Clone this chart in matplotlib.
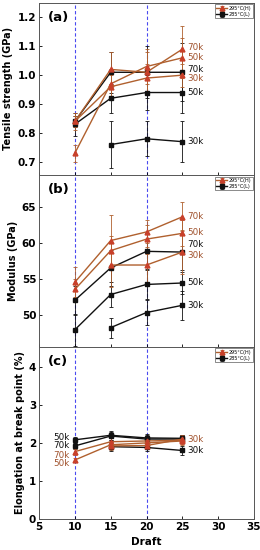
import numpy as np
import matplotlib
matplotlib.use("Agg")
import matplotlib.pyplot as plt

draft = [10, 15, 20, 25]
nan = np.nan

# (a) Tensile strength (GPa)
ts_H = {"70k": [0.84, 1.02, 1.01, 1.09], "50k": [0.73, 0.97, 1.03, 1.06], "30k": [0.84, 0.96, 0.99, 1.00]}
ts_H_err = {"70k": [0.03, 0.06, 0.07, 0.08], "50k": [0.03, 0.05, 0.06, 0.07], "30k": [0.02, 0.04, 0.05, 0.04]}
ts_L = {"70k": [0.84, 1.01, 1.01, 1.01], "50k": [0.83, 0.92, 0.94, 0.94], "30k": [nan, 0.76, 0.78, 0.77]}
ts_L_err = {"70k": [0.02, 0.07, 0.09, 0.10], "50k": [0.04, 0.05, 0.06, 0.07], "30k": [nan, 0.08, 0.06, 0.07]}

# (b) Modulus (GPa)
mod_H = {"70k": [54.6, 60.4, 61.6, 63.7], "50k": [53.6, 59.0, 60.6, 61.4], "30k": [nan, 57.0, 57.0, 58.8]}
mod_H_err = {"70k": [2.1, 3.5, 1.6, 2.0], "50k": [1.5, 2.0, 2.0, 1.8], "30k": [nan, 3.0, 2.5, 3.0]}
mod_L = {"70k": [52.1, 56.6, 58.9, 58.8], "50k": [48.0, 52.9, 54.3, 54.5], "30k": [nan, 48.3, 50.4, 51.4]}
mod_L_err = {"70k": [2.0, 2.5, 2.5, 2.5], "50k": [2.2, 1.8, 2.0, 1.5], "30k": [nan, 1.4, 1.8, 2.0]}

# (c) Elongation at break point (%)
el_H = {"70k": [1.77, 2.03, 2.05, 2.07], "50k": [1.55, 1.95, 2.00, 2.05], "30k": [nan, 1.92, 1.93, 2.10]}
el_H_err = {"70k": [0.08, 0.1, 0.1, 0.1], "50k": [0.06, 0.1, 0.1, 0.1], "30k": [nan, 0.1, 0.1, 0.1]}
el_L = {"50k": [2.08, 2.20, 2.13, 2.12], "70k": [1.92, 2.18, 2.10, 2.10], "30k": [nan, 1.90, 1.88, 1.80]}
el_L_err = {"50k": [0.08, 0.12, 0.1, 0.08], "70k": [0.08, 0.1, 0.1, 0.1], "30k": [nan, 0.12, 0.1, 0.12]}

xticks = [5, 10, 15, 20, 25, 30, 35]
legend_labels = ["295°C(H)", "285°C(L)"]

colH = "#B0602E"
colHtxt = "#A0522D"
colL = "#111111"
vcol = "#4A4AF0"

fig = plt.figure(figsize=(2.6, 5.5), dpi=100)
left, width, height = 0.15, 0.827, 0.3127
bottoms = [0.682, 0.369, 0.0564]
axes = [fig.add_axes([left, b, width, height]) for b in bottoms]

panels = [
    (ts_H, ts_H_err, ts_L, ts_L_err, (0.655, 1.25), [0.7, 0.8, 0.9, 1.0, 1.1, 1.2], "Tensile strength (GPa)", "(a)"),
    (mod_H, mod_H_err, mod_L, mod_L_err, (45.6, 69.5), [50, 55, 60, 65], "Modulus (GPa)", "(b)"),
    (el_H, el_H_err, el_L, el_L_err, (0, 4.52), [0, 1, 2, 3, 4], "Elongation at break point (%)", "(c)"),
]

for i, (ax, (H, He, L, Le, ylim, yt, ylab, tag)) in enumerate(zip(axes, panels)):
    for xv in [10, 20]:
        ax.axvline(xv, color=vcol, ls=(0, (3, 2)), lw=0.8, zorder=0.5)
    for k in L:
        ax.errorbar(draft, L[k], yerr=Le[k], color=colL, marker="s", ms=3, lw=1.0,
                    elinewidth=0.6, capsize=1.5, capthick=0.6,
                    label=legend_labels[1] if k == list(L)[0] else None)
    for k in H:
        ax.errorbar(draft, H[k], yerr=He[k], color=colH, marker="^", ms=3.5, lw=1.0,
                    mfc="#C8402A", mec="#C8402A",
                    elinewidth=0.6, capsize=1.5, capthick=0.6,
                    label=legend_labels[0] if k == list(H)[0] else None)
    ax.set_xlim(5, 35)
    ax.set_ylim(*ylim)
    ax.set_yticks(yt)
    ax.set_xticks(xticks)
    ax.tick_params(direction="in", length=2.5, width=0.6, labelsize=7.5, pad=2)
    for lab in ax.get_yticklabels() + ax.get_xticklabels():
        lab.set_fontweight("bold")
    if i < 2:
        ax.tick_params(labelbottom=False)
    ax.set_ylabel(ylab, fontsize=7, fontweight="bold", labelpad=3)
    for s in ax.spines.values():
        s.set_linewidth(0.7)
        s.set_color("#555555")
    ax.text(0.04, 0.955, tag, transform=ax.transAxes, fontsize=9.5, fontweight="bold",
            va="top", ha="left")
    handles, labels = ax.get_legend_handles_labels()
    order = [labels.index(legend_labels[0]), labels.index(legend_labels[1])]
    ax.legend([handles[j] for j in order], [labels[j] for j in order],
              loc="upper right", fontsize=3.5, frameon=True, fancybox=False,
              edgecolor="#333333", borderpad=0.3, handlelength=2.2, handletextpad=0.3,
              labelspacing=0.2, borderaxespad=0.3).get_frame().set_linewidth(0.5)

axes[2].set_xlabel("Draft", fontsize=7.5, fontweight="bold", labelpad=4)

# series labels
xr = 25.7
fs = 6.3
# (a)
for txt, y, c in [("70k", 1.095, colHtxt), ("50k", 1.06, colHtxt), ("70k", 1.018, colL),
                  ("30k", 0.988, colHtxt), ("50k", 0.94, colL), ("30k", 0.77, colL)]:
    axes[0].text(xr, y, txt, color=c, fontsize=fs, va="center")
# (b)
for txt, y, c in [("70k", 63.8, colHtxt), ("50k", 61.5, colHtxt), ("70k", 59.8, colL),
                  ("30k", 58.3, colHtxt), ("50k", 54.6, colL), ("30k", 51.4, colL)]:
    axes[1].text(xr, y, txt, color=c, fontsize=fs, va="center")
# (c)
for txt, y, c in [("30k", 2.1, colHtxt), ("30k", 1.8, colL)]:
    axes[2].text(xr, y, txt, color=c, fontsize=fs, va="center")
for txt, y, c in [("50k", 2.15, colL), ("70k", 1.92, colL), ("70k", 1.68, colHtxt), ("50k", 1.45, colHtxt)]:
    axes[2].text(9.3, y, txt, color=c, fontsize=fs, va="center", ha="right")

fig.savefig("out.png", dpi=100)
